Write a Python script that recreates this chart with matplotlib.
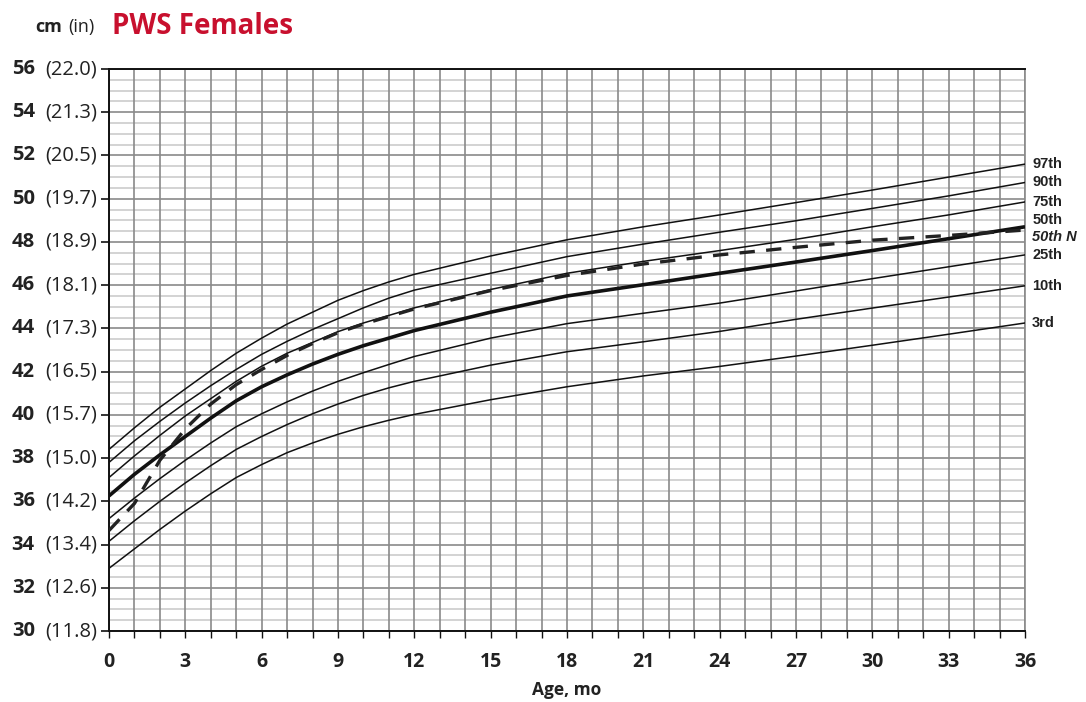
import numpy as np
import matplotlib
matplotlib.use("Agg")
import matplotlib.pyplot as plt
from matplotlib.ticker import MultipleLocator
import matplotlib.transforms as mtransforms

# Head circumference, PWS females (cm)
months = [0, 1, 2, 3, 4, 5, 6, 7, 8, 9, 10, 11, 12, 15, 18, 21, 24, 27, 30, 33, 36]

p97 = [38.4, 39.4, 40.35, 41.2, 42.05, 42.85, 43.55, 44.2, 44.75, 45.3, 45.75, 46.15, 46.5,
       47.35, 48.1, 48.7, 49.25, 49.82, 50.4, 51.0, 51.6]
p90 = [37.8, 38.8, 39.7, 40.55, 41.35, 42.1, 42.8, 43.4, 43.95, 44.45, 44.95, 45.4, 45.77,
       46.55, 47.32, 47.9, 48.45, 48.98, 49.55, 50.13, 50.75]
p75 = [37.1, 38.1, 39.05, 39.95, 40.75, 41.55, 42.25, 42.85, 43.35, 43.85, 44.25, 44.6, 44.95,
       45.8, 46.55, 47.1, 47.6, 48.12, 48.7, 49.25, 49.85]
p50 = [36.25, 37.25, 38.15, 39.0, 39.85, 40.65, 41.3, 41.85, 42.35, 42.8, 43.2, 43.55, 43.9,
       44.75, 45.5, 46.02, 46.55, 47.07, 47.6, 48.15, 48.7]
p25 = [35.2, 36.15, 37.05, 37.9, 38.7, 39.45, 40.05, 40.6, 41.1, 41.55, 41.95, 42.33, 42.7,
       43.55, 44.22, 44.7, 45.17, 45.73, 46.3, 46.85, 47.4]
p10 = [34.15, 35.1, 36.0, 36.85, 37.65, 38.4, 39.0, 39.55, 40.05, 40.5, 40.9, 41.25, 41.55,
       42.3, 42.92, 43.38, 43.86, 44.42, 44.94, 45.45, 45.97]
p3 = [32.9, 33.8, 34.7, 35.55, 36.35, 37.1, 37.7, 38.25, 38.7, 39.1, 39.45, 39.75, 40.02,
      40.7, 41.3, 41.8, 42.24, 42.72, 43.22, 43.73, 44.25]
# normal (non-PWS) 50th percentile, dashed
p50n = [34.65, 35.9, 37.9, 39.35, 40.5, 41.4, 42.1, 42.75, 43.3, 43.8, 44.2, 44.55, 44.9,
        45.75, 46.45, 46.98, 47.4, 47.75, 48.08, 48.3, 48.55]

curve_labels = ["97th", "90th", "75th", "50th", "50th N", "25th", "10th", "3rd"]
cm_ticks = list(range(30, 57, 2))
in_labels = ["11.8", "12.6", "13.4", "14.2", "15.0", "15.7", "16.5", "17.3",
             "18.1", "18.9", "19.7", "20.5", "21.3", "22.0"]
age_ticks = list(range(0, 37, 3))

red = "#c8102e"
font = "Open Sans"

fig = plt.figure(figsize=(10.86, 7.02), dpi=100)
ax = fig.add_axes([109 / 1086, 1 - 631 / 702, 916 / 1086, 562 / 702])
ax.set_xlim(0, 36)
ax.set_ylim(30, 56)

# grid: light half-cm lines, darker 2 cm and monthly lines
for y in np.arange(30, 56.01, 0.5):
    if y % 2 == 0:
        continue
    ax.axhline(y, color="#c8c8c8", lw=1.1, zorder=1)
for y in cm_ticks:
    ax.axhline(y, color="#8a8a8a", lw=1.2, zorder=1.5)
for x in range(0, 37):
    ax.axvline(x, color="#8a8a8a", lw=1.2, zorder=1.5)

for vals in [p97, p90, p75, p25, p10, p3]:
    ax.plot(months, vals, color="#111111", lw=1.1, zorder=3)
ax.plot(months, p50, color="#111111", lw=2.6, zorder=4, solid_capstyle="butt")
ax.plot(months, p50n, color="#222222", lw=2.4, zorder=5, dashes=(4.6, 3.4))

# curve labels at right end
ends = [p97[-1], p90[-1], p75[-1], p50[-1], p50n[-1], p25[-1], p10[-1], p3[-1]]
shifts = [0, 0, 0, 0.3, -0.3, 0, 0, 0]
for lab, yv, dy in zip(curve_labels, ends, shifts):
    style = "italic" if lab.endswith("N") else "normal"
    ax.text(36.28, yv + dy, lab, ha="left", va="center", fontsize=10.5,
            fontweight="bold", fontstyle=style, family="Liberation Sans",
            color="#222222", clip_on=False)

for side in ["top", "left", "bottom"]:
    ax.spines[side].set_color("#111111")
    ax.spines[side].set_linewidth(1.4)
ax.spines["right"].set_color("#8a8a8a")
ax.spines["right"].set_linewidth(1.2)

ax.set_yticks(cm_ticks)
ax.set_yticklabels([])
ax.tick_params(axis="y", length=6, width=1.2, color="#111111")
ax.xaxis.set_major_locator(MultipleLocator(3))
ax.xaxis.set_minor_locator(MultipleLocator(1))
ax.set_xticks(age_ticks)
ax.set_xticklabels([str(a) for a in age_ticks], fontsize=14, fontweight="bold",
                   family=font, color="#222222")
ax.tick_params(axis="x", which="both", length=5, width=1.0, color="#111111", pad=10)

trans = mtransforms.blended_transform_factory(ax.transAxes, ax.transData)
for cm, inch in zip(cm_ticks, in_labels):
    ax.text(-0.081, cm, str(cm), transform=trans, ha="right", va="center",
            fontsize=14.5, fontweight="bold", family=font, color="#222222")
    ax.text(-0.013, cm, "(" + inch + ")", transform=trans, ha="right", va="center",
            fontsize=14.5, family=font, color="#222222")

fig.text(567 / 1086, 1 - 690 / 702, "Age, mo", ha="center", va="center",
         fontsize=12.5, fontweight="bold", family=font, color="#222222")
fig.text(62 / 1086, 1 - 27 / 702, "cm", ha="right", va="center",
         fontsize=13, fontweight="bold", family=font, color="#222222")
fig.text(68 / 1086, 1 - 27 / 702, "(in)", ha="left", va="center",
         fontsize=13, family=font, color="#222222")
fig.text(112 / 1086, 1 - 26 / 702, "PWS Females", ha="left", va="center",
         fontsize=20, fontweight="bold", family=font, color=red)

fig.savefig("out.png", dpi=100)
